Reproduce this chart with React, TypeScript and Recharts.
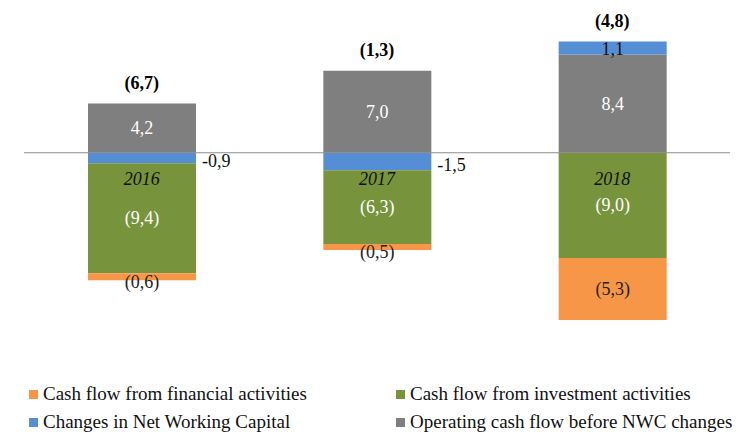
import React from 'react';
import { BarChart, Bar, XAxis, YAxis, ReferenceLine, ReferenceDot, LabelList } from 'recharts';

const years = ['2016', '2017', '2018'];
const operating = [4.2, 7.0, 8.4];
const nwc = [-0.9, -1.5, 1.1];
const investment = [-9.4, -6.3, -9.0];
const financial = [-0.6, -0.5, -5.3];
const totals = [-6.7, -1.3, -4.8];

const COLORS = {
  operating: '#7f7f7f',
  nwc: '#558ed5',
  investment: '#77933c',
  financial: '#f79646',
};
const FONT = "'Liberation Serif', 'DejaVu Serif', serif";

const data = years.map((year, i) => ({
  year,
  operating: operating[i],
  nwc: nwc[i],
  investment: investment[i],
  financial: financial[i],
  total: totals[i],
  top: [operating[i], nwc[i], investment[i], financial[i]].filter((v) => v > 0).reduce((a, b) => a + b, 0),
}));

const comma = (v: number) => Math.abs(v).toFixed(1).replace('.', ',');
const paren = (v: number) => (v < 0 ? `(${comma(v)})` : comma(v));
const signed = (v: number) => (v < 0 ? '-' : '') + comma(v);

const box = (p: any) => {
  const top = Math.min(p.y, p.y + p.height);
  const h = Math.abs(p.height);
  return { cx: p.x + p.width / 2, cy: top + h / 2, top, h };
};

const InsideLabel = (color: string) => (p: any) => {
  const { cx, cy, h } = box(p);
  return (
    <text x={cx} y={cy + (h < 20 ? 5 : 0)} textAnchor="middle" dominantBaseline="central"
      fill={color} fontSize={18} style={{ fontFamily: FONT }}>
      {paren(p.value)}
    </text>
  );
};

const NwcLabel = (p: any) => {
  const { cx, cy } = box(p);
  if (p.value < 0) {
    return (
      <text x={p.x + p.width + 6} y={cy + 3} textAnchor="start" dominantBaseline="central"
        fill="#111" fontSize={18} style={{ fontFamily: FONT }}>
        {signed(p.value)}
      </text>
    );
  }
  return (
    <text x={cx} y={cy + 1} textAnchor="middle" dominantBaseline="central"
      fill="#111" fontSize={18} style={{ fontFamily: FONT }}>
      {signed(p.value)}
    </text>
  );
};

const YearTick = (p: any) => (
  <text x={p.x} y={179} textAnchor="middle" dominantBaseline="central"
    fill="#111" fontSize={18} fontStyle="italic" style={{ fontFamily: FONT }}>
    {p.payload.value}
  </text>
);

const TotalLabel = (p: any) => {
  const vb = p.viewBox;
  return (
    <text x={vb.x + vb.width / 2} y={vb.y - 21} textAnchor="middle" dominantBaseline="central"
      fill="#000" fontSize={18} fontWeight="bold" style={{ fontFamily: FONT }}>
      {p.value}
    </text>
  );
};

const legendItems = [
  { label: 'Cash flow from financial activities', color: COLORS.financial, x: 29, y: 394 },
  { label: 'Cash flow from investment activities', color: COLORS.investment, x: 396, y: 394 },
  { label: 'Changes in Net Working Capital', color: COLORS.nwc, x: 29, y: 422 },
  { label: 'Operating cash flow before NWC changes', color: COLORS.operating, x: 396, y: 422 },
];

export default function App() {
  return (
    <div style={{ position: 'absolute', left: 0, top: 0, width: 746, height: 435, background: '#fff', fontFamily: FONT }}>
      <BarChart width={746} height={370} data={data} stackOffset="sign"
        margin={{ top: 24, right: 16, bottom: 0, left: 24 }} barSize={108}>
        <XAxis dataKey="year" axisLine={false} tickLine={false} height={30} tick={<YearTick />} interval={0} />
        <YAxis hide domain={[-16, 11]} />
        <Bar dataKey="operating" stackId="a" fill={COLORS.operating} isAnimationActive={false}>
          <LabelList dataKey="operating" content={InsideLabel('#fff')} />
        </Bar>
        <Bar dataKey="nwc" stackId="a" fill={COLORS.nwc} isAnimationActive={false}>
          <LabelList dataKey="nwc" content={NwcLabel} />
        </Bar>
        <Bar dataKey="investment" stackId="a" fill={COLORS.investment} isAnimationActive={false}>
          <LabelList dataKey="investment" content={InsideLabel('#fff')} />
        </Bar>
        <Bar dataKey="financial" stackId="a" fill={COLORS.financial} isAnimationActive={false}>
          <LabelList dataKey="financial" content={InsideLabel('#222')} />
        </Bar>
        <ReferenceLine y={0} stroke="#8c8c8c" strokeWidth={1.2} />
        {data.map((d) => (
          <ReferenceDot key={d.year} x={d.year} y={d.top} r={0} fill="none" stroke="none"
            label={<TotalLabel value={paren(d.total)} />} />
        ))}
      </BarChart>
      {legendItems.map((it) => (
        <div key={it.label} style={{ position: 'absolute', left: it.x, top: it.y - 11, height: 22, display: 'flex', alignItems: 'center', fontSize: 19, color: '#111', whiteSpace: 'nowrap' }}>
          <span style={{ display: 'inline-block', width: 9, height: 9, background: it.color, marginRight: 5 }} />
          {it.label}
        </div>
      ))}
    </div>
  );
}
